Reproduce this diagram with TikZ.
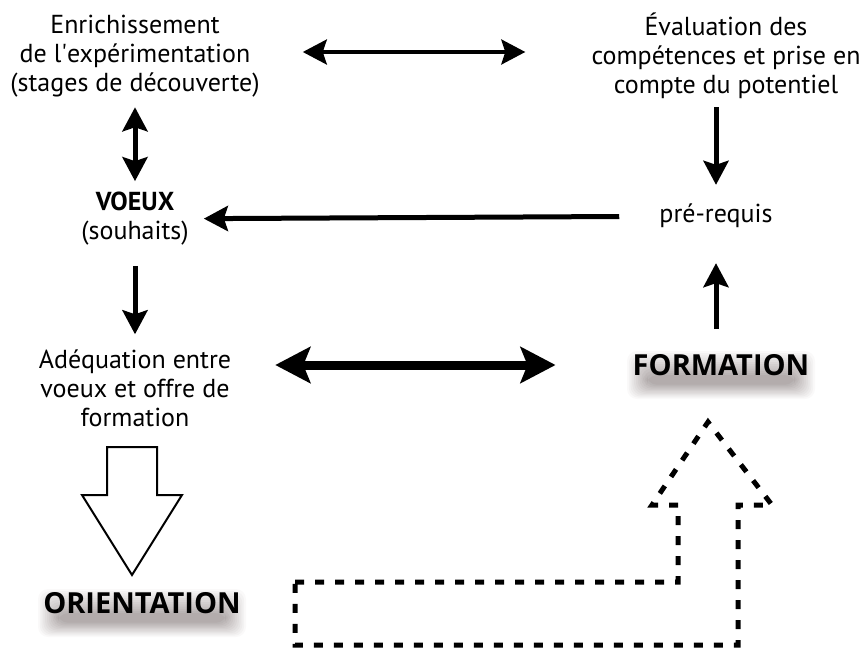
\documentclass[tikz,border=0pt]{standalone}
\usepackage{fontspec}
\setmainfont{PT Sans}
\newfontfamily\bigfont{Open Sans}
\usetikzlibrary{arrows.meta,calc}
\definecolor{shadowgray}{rgb}{0.30,0.24,0.24}

% ombre floue (couches de gris) sous un titre: #1 position, #2 demi-largeur
\newcommand{\softshadow}[2]{%
  \foreach \i in {0,...,11}{
    \pgfmathsetmacro\pct{3+\i*3.6}
    \fill[shadowgray!\pct!white,rounded corners=10pt]
      ($(#1)+(-#2-14+\i*1.8,-14+\i*2.2)$) rectangle ($(#1)+(#2+14-\i*1.8,34-\i*1.3)$);
  }}

\begin{document}
\begin{tikzpicture}[x=1pt,y=-1pt,
    main node/.style={align=center,inner sep=3pt,font=\fontsize{26}{29}\selectfont},
    big node/.style={inner sep=2pt,font=\bigfont\fontsize{29}{32}\selectfont\bfseries},
    thin arrow/.style={line width=5pt,-{Stealth[length=24pt,width=25pt,inset=4pt]}},
    thin both/.style={line width=5pt,{Stealth[length=24pt,width=25pt,inset=4pt]}-{Stealth[length=24pt,width=25pt,inset=4pt]}},
    thick both/.style={line width=9pt,{Stealth[length=35pt,width=36pt,inset=7pt]}-{Stealth[length=35pt,width=36pt,inset=7pt]}}]
    \useasboundingbox (0,0) rectangle (865,648);

    \coordinate (formation-pos) at (721,365);
    \coordinate (orientation-pos) at (142,603);

    % ombres sous les titres
    \softshadow{formation-pos}{80}
    \softshadow{orientation-pos}{90}

    \node[main node] (enrich) at (135,56) {Enrichissement\\de l\textquotesingle expérimentation\\(stages de découverte)};
    \node[main node] (eval) at (726,56) {Évaluation des\\compétences et prise en\\compte du potentiel};
    \node[main node] (voeux) at (135,219) {\textbf{VOEUX}\\(souhaits)};
    \node[main node] (prereq) at (716,216) {pré-requis};
    \node[main node] (adeq) at (135,388) {Adéquation entre\\voeux et offre de\\formation};
    \node[big node] (formation) at (formation-pos) {FORMATION};
    \node[big node] (orientation) at (orientation-pos) {ORIENTATION};

    % liens entre les blocs
    \draw[thin both,line width=3.5pt,shorten <=40pt,shorten >=63pt] (enrich.east |- 0,52) -- (eval.west |- 0,52);
    \draw[thin both,shorten <=7pt,shorten >=8pt] (enrich) -- (voeux);
    \draw[thin arrow,shorten <=17pt,shorten >=12pt] (voeux) -- (adeq);
    \draw[thin arrow,shorten <=37pt,shorten >=12pt] (prereq) -- (voeux);
    \draw[thin arrow,shorten <=5pt,shorten >=16pt] (prereq.north |- eval.south) -- (prereq.north);
    \draw[thin arrow,shorten <=23pt,shorten >=32pt] (prereq.south |- formation.north) -- (prereq.south);
    \draw[thick both,shorten <=41pt,shorten >=75pt] (adeq.east |- formation.west) -- (formation.west);

    % grandes fleches
    \draw[line width=2pt,line join=miter] (107,447) -- (157,447) -- (157,495) -- (182,495) -- (132,575)
        -- (82,495) -- (107,495) -- cycle;
    \draw[line width=5pt,dash pattern=on 9pt off 11pt,line join=miter] (295,582) -- (678,582) -- (678,505)
        -- (652,505) -- (708,422) -- (772,505) -- (738,505) -- (738,645) -- (295,645) -- cycle;
\end{tikzpicture}
\end{document}
